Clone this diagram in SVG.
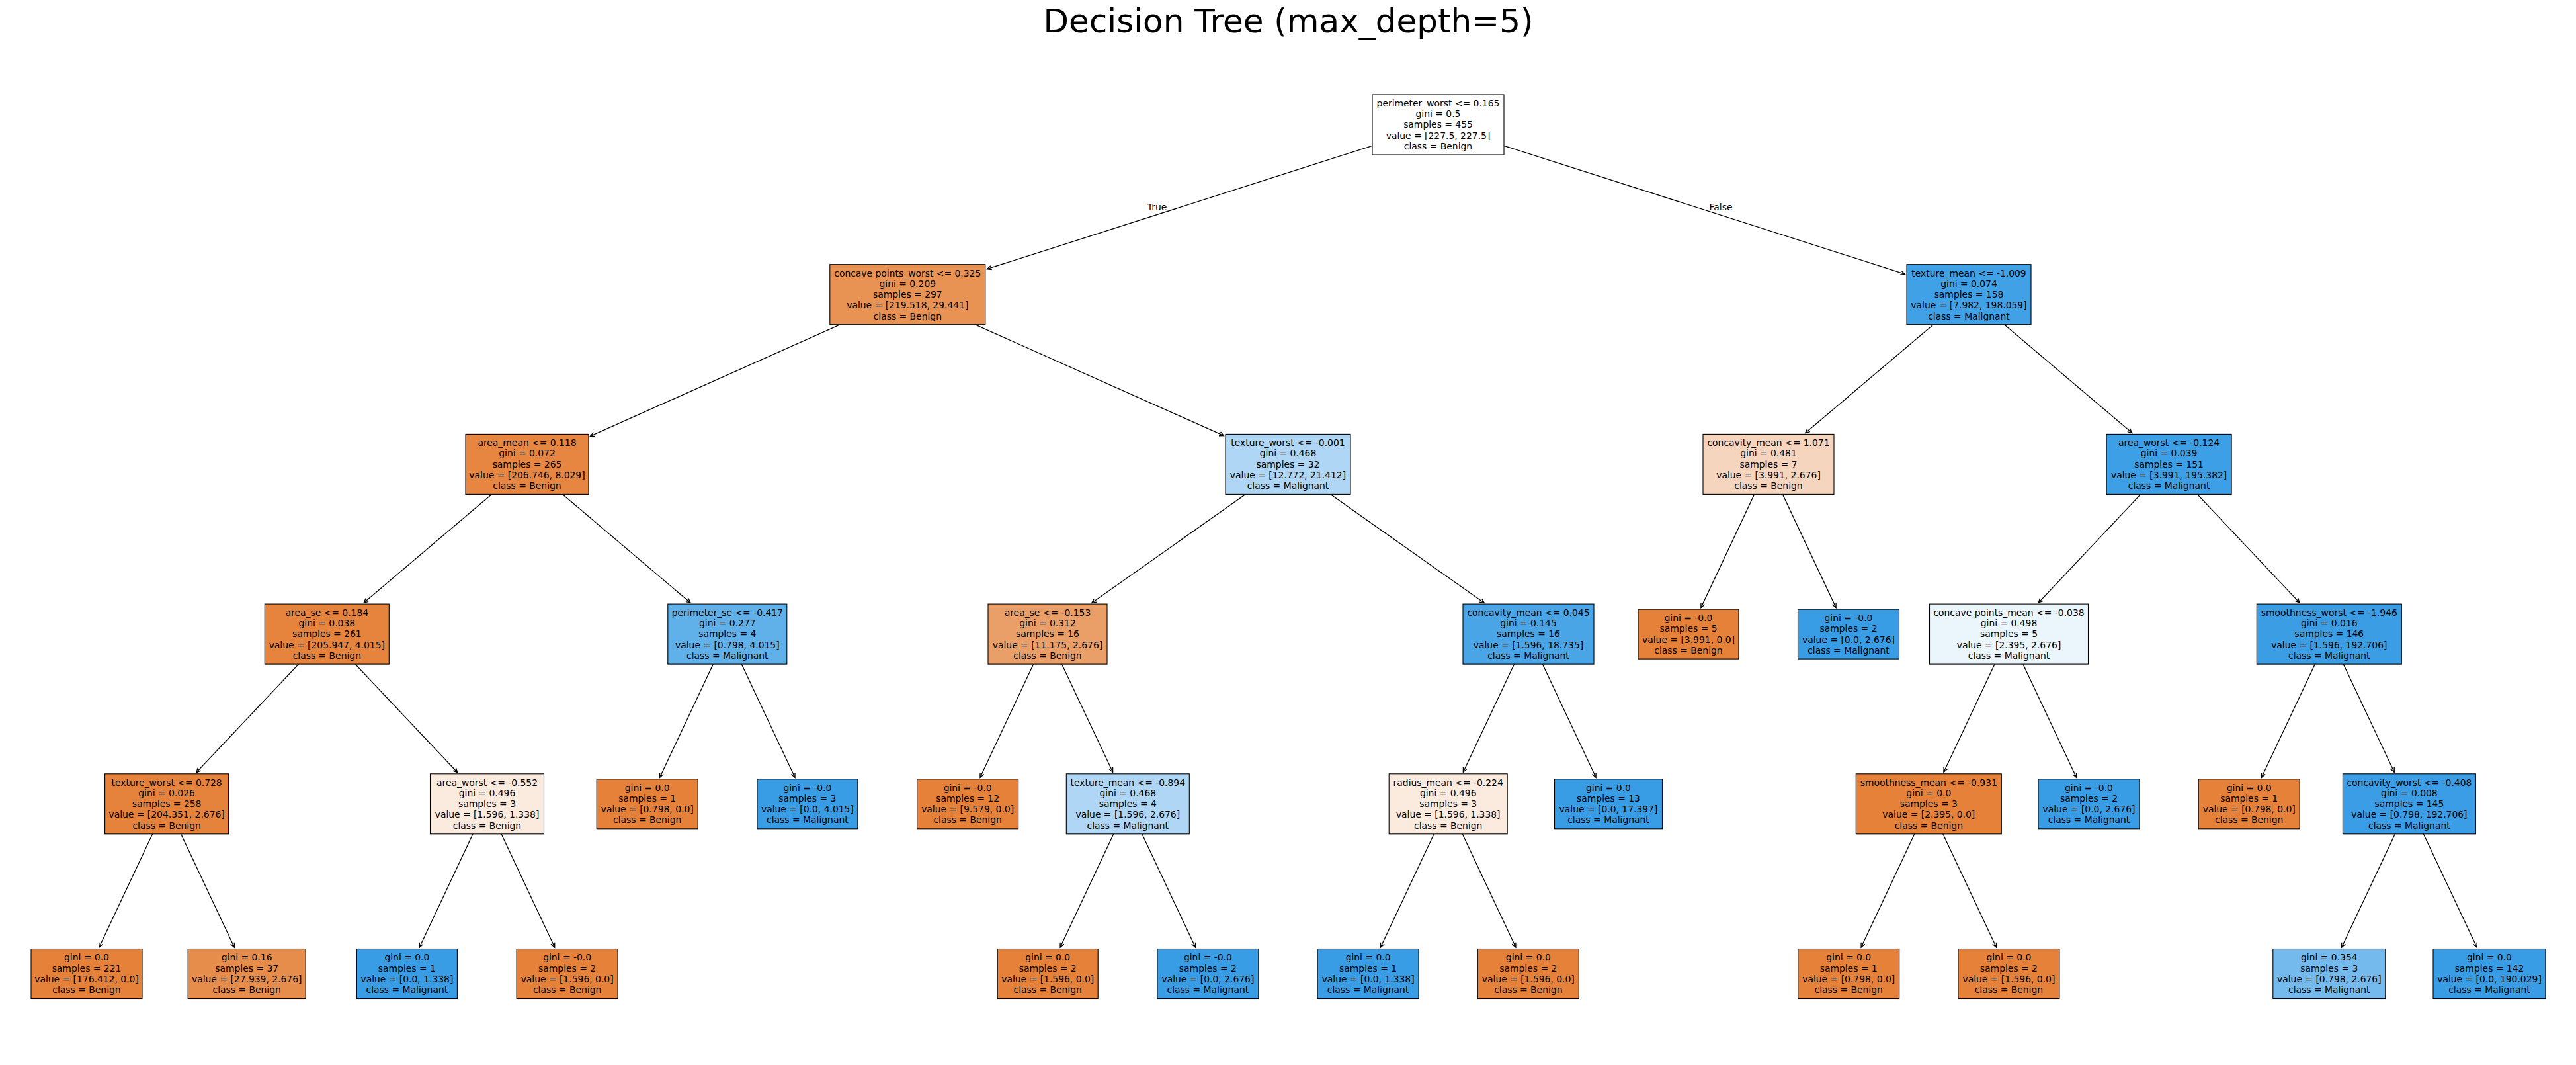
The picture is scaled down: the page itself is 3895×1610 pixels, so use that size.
<svg xmlns="http://www.w3.org/2000/svg" width="3895" height="1610" viewBox="0 0 3895 1610">
<defs>
<style>
.bg{fill:#ffffff}
.box{stroke:#000000;stroke-width:1.1}
.t{font-family:"DejaVu Sans","Liberation Sans",sans-serif;font-size:13.9px;fill:#000000;text-anchor:middle}
.title{font-family:"DejaVu Sans","Liberation Sans",sans-serif;font-size:50px;fill:#000000;text-anchor:middle}
.e{stroke:#000000;stroke-width:1.3;fill:none;marker-end:url(#ah)}
</style>
<marker id="ah" markerUnits="userSpaceOnUse" markerWidth="10" markerHeight="10" refX="0" refY="0" viewBox="-8 -4 9 8" orient="auto" overflow="visible">
<path d="M -6 -2.8 L 0 0 L -6 2.8" fill="none" stroke="#000000" stroke-width="1.2"/>
</marker>
</defs>
<rect class="bg" x="0" y="0" width="3895" height="1610"/>
<text class="title" x="1948" y="49">Decision Tree (max_depth=5)</text>
<g id="connectors">
<line class="e" x1="2075" y1="220.3" x2="1492.5" y2="406.7"/>
<line class="e" x1="2274" y1="220.3" x2="2880.3" y2="414.3"/>
<line class="e" x1="1270.3" y1="490.7" x2="892.6" y2="659.3"/>
<line class="e" x1="1474.3" y1="490.7" x2="1850.4" y2="658.6"/>
<line class="e" x1="2923.3" y1="490.7" x2="2729.8" y2="654.6"/>
<line class="e" x1="3030.6" y1="490.7" x2="3223.8" y2="654.6"/>
<line class="e" x1="743.3" y1="747.4" x2="550.1" y2="911.3"/>
<line class="e" x1="850.7" y1="747.4" x2="1044" y2="911.3"/>
<line class="e" x1="1883.1" y1="747.4" x2="1650.7" y2="911.5"/>
<line class="e" x1="2011.9" y1="747.4" x2="2244.3" y2="911.5"/>
<line class="e" x1="2652.6" y1="747.4" x2="2571.9" y2="918.6"/>
<line class="e" x1="2695.4" y1="747.4" x2="2776.1" y2="918.6"/>
<line class="e" x1="3236.7" y1="747.4" x2="3082.3" y2="911.1"/>
<line class="e" x1="3322.5" y1="747.4" x2="3477" y2="911.1"/>
<line class="e" x1="451.4" y1="1004.1" x2="296.9" y2="1167.8"/>
<line class="e" x1="537.2" y1="1004.1" x2="691.7" y2="1167.8"/>
<line class="e" x1="1078.3" y1="1004.1" x2="997.6" y2="1175.3"/>
<line class="e" x1="1121.3" y1="1004.1" x2="1202" y2="1175.3"/>
<line class="e" x1="1562.6" y1="1004.1" x2="1482" y2="1175.3"/>
<line class="e" x1="1605.5" y1="1004.1" x2="1682.6" y2="1167.3"/>
<line class="e" x1="2289.5" y1="1004.1" x2="2212.4" y2="1167.3"/>
<line class="e" x1="2332.4" y1="1004.1" x2="2413.1" y2="1175.3"/>
<line class="e" x1="3016" y1="1004.1" x2="2939" y2="1167.3"/>
<line class="e" x1="3058.9" y1="1004.1" x2="3139.6" y2="1175.3"/>
<line class="e" x1="3500.3" y1="1004.1" x2="3419.6" y2="1175.3"/>
<line class="e" x1="3543.3" y1="1004.1" x2="3620.2" y2="1167.3"/>
<line class="e" x1="230.6" y1="1260.8" x2="149.9" y2="1432"/>
<line class="e" x1="273.6" y1="1260.8" x2="354.3" y2="1432"/>
<line class="e" x1="715" y1="1260.8" x2="634.3" y2="1432"/>
<line class="e" x1="758" y1="1260.8" x2="838.7" y2="1432"/>
<line class="e" x1="1683.8" y1="1260.8" x2="1603.1" y2="1432"/>
<line class="e" x1="1726.8" y1="1260.8" x2="1807.5" y2="1432"/>
<line class="e" x1="2168.2" y1="1260.8" x2="2087.5" y2="1432"/>
<line class="e" x1="2211.2" y1="1260.8" x2="2291.9" y2="1432"/>
<line class="e" x1="2894.8" y1="1260.8" x2="2814.1" y2="1432"/>
<line class="e" x1="2937.8" y1="1260.8" x2="3018.5" y2="1432"/>
<line class="e" x1="3621.4" y1="1260.8" x2="3540.7" y2="1432"/>
<line class="e" x1="3664.4" y1="1260.8" x2="3745.1" y2="1432"/>
<text class="t" x="1749.5" y="317.5">True</text>
<text class="t" x="2602" y="317.5">False</text>
</g>
<g id="n0"><rect class="box" x="2075" y="143" width="199" height="91" fill="#ffffff"/><text class="t" x="2174.5" y="160.8"><tspan x="2174.5">perimeter_worst &lt;= 0.165</tspan><tspan x="2174.5" dy="16.25">gini = 0.5</tspan><tspan x="2174.5" dy="16.25">samples = 455</tspan><tspan x="2174.5" dy="16.25">value = [227.5, 227.5]</tspan><tspan x="2174.5" dy="16.25">class = Benign</tspan></text></g>
<g id="n1"><rect class="box" x="1254.8" y="399.7" width="235" height="91" fill="#e89254"/><text class="t" x="1372.3" y="417.5"><tspan x="1372.3">concave points_worst &lt;= 0.325</tspan><tspan x="1372.3" dy="16.25">gini = 0.209</tspan><tspan x="1372.3" dy="16.25">samples = 297</tspan><tspan x="1372.3" dy="16.25">value = [219.518, 29.441]</tspan><tspan x="1372.3" dy="16.25">class = Benign</tspan></text></g>
<g id="n2"><rect class="box" x="2883" y="399.7" width="188" height="91" fill="#41a1e6"/><text class="t" x="2977" y="417.5"><tspan x="2977">texture_mean &lt;= -1.009</tspan><tspan x="2977" dy="16.25">gini = 0.074</tspan><tspan x="2977" dy="16.25">samples = 158</tspan><tspan x="2977" dy="16.25">value = [7.982, 198.059]</tspan><tspan x="2977" dy="16.25">class = Malignant</tspan></text></g>
<g id="n3"><rect class="box" x="704" y="656.4" width="186" height="91" fill="#e68641"/><text class="t" x="797" y="674.2"><tspan x="797">area_mean &lt;= 0.118</tspan><tspan x="797" dy="16.25">gini = 0.072</tspan><tspan x="797" dy="16.25">samples = 265</tspan><tspan x="797" dy="16.25">value = [206.746, 8.029]</tspan><tspan x="797" dy="16.25">class = Benign</tspan></text></g>
<g id="n4"><rect class="box" x="1853" y="656.4" width="189" height="91" fill="#afd7f5"/><text class="t" x="1947.5" y="674.2"><tspan x="1947.5">texture_worst &lt;= -0.001</tspan><tspan x="1947.5" dy="16.25">gini = 0.468</tspan><tspan x="1947.5" dy="16.25">samples = 32</tspan><tspan x="1947.5" dy="16.25">value = [12.772, 21.412]</tspan><tspan x="1947.5" dy="16.25">class = Malignant</tspan></text></g>
<g id="n5"><rect class="box" x="2575" y="656.4" width="198" height="91" fill="#f6d5be"/><text class="t" x="2674" y="674.2"><tspan x="2674">concavity_mean &lt;= 1.071</tspan><tspan x="2674" dy="16.25">gini = 0.481</tspan><tspan x="2674" dy="16.25">samples = 7</tspan><tspan x="2674" dy="16.25">value = [3.991, 2.676]</tspan><tspan x="2674" dy="16.25">class = Benign</tspan></text></g>
<g id="n6"><rect class="box" x="3185.1" y="656.4" width="189" height="91" fill="#3d9fe6"/><text class="t" x="3279.6" y="674.2"><tspan x="3279.6">area_worst &lt;= -0.124</tspan><tspan x="3279.6" dy="16.25">gini = 0.039</tspan><tspan x="3279.6" dy="16.25">samples = 151</tspan><tspan x="3279.6" dy="16.25">value = [3.991, 195.382]</tspan><tspan x="3279.6" dy="16.25">class = Malignant</tspan></text></g>
<g id="n7"><rect class="box" x="400.3" y="913.1" width="188" height="91" fill="#e6833d"/><text class="t" x="494.3" y="930.9"><tspan x="494.3">area_se &lt;= 0.184</tspan><tspan x="494.3" dy="16.25">gini = 0.038</tspan><tspan x="494.3" dy="16.25">samples = 261</tspan><tspan x="494.3" dy="16.25">value = [205.947, 4.015]</tspan><tspan x="494.3" dy="16.25">class = Benign</tspan></text></g>
<g id="n8"><rect class="box" x="1009.8" y="913.1" width="180" height="91" fill="#60b0ea"/><text class="t" x="1099.8" y="930.9"><tspan x="1099.8">perimeter_se &lt;= -0.417</tspan><tspan x="1099.8" dy="16.25">gini = 0.277</tspan><tspan x="1099.8" dy="16.25">samples = 4</tspan><tspan x="1099.8" dy="16.25">value = [0.798, 4.015]</tspan><tspan x="1099.8" dy="16.25">class = Malignant</tspan></text></g>
<g id="n9"><rect class="box" x="1494" y="913.1" width="180" height="91" fill="#eb9f68"/><text class="t" x="1584" y="930.9"><tspan x="1584">area_se &lt;= -0.153</tspan><tspan x="1584" dy="16.25">gini = 0.312</tspan><tspan x="1584" dy="16.25">samples = 16</tspan><tspan x="1584" dy="16.25">value = [11.175, 2.676]</tspan><tspan x="1584" dy="16.25">class = Benign</tspan></text></g>
<g id="n10"><rect class="box" x="2212" y="913.1" width="198" height="91" fill="#4aa5e7"/><text class="t" x="2311" y="930.9"><tspan x="2311">concavity_mean &lt;= 0.045</tspan><tspan x="2311" dy="16.25">gini = 0.145</tspan><tspan x="2311" dy="16.25">samples = 16</tspan><tspan x="2311" dy="16.25">value = [1.596, 18.735]</tspan><tspan x="2311" dy="16.25">class = Malignant</tspan></text></g>
<g id="n11"><rect class="box" x="2477" y="921.1" width="152" height="75" fill="#e58139"/><text class="t" x="2553" y="939"><tspan x="2553">gini = -0.0</tspan><tspan x="2553" dy="16.25">samples = 5</tspan><tspan x="2553" dy="16.25">value = [3.991, 0.0]</tspan><tspan x="2553" dy="16.25">class = Benign</tspan></text></g>
<g id="n12"><rect class="box" x="2718.5" y="921.1" width="153" height="75" fill="#399de5"/><text class="t" x="2795" y="939"><tspan x="2795">gini = -0.0</tspan><tspan x="2795" dy="16.25">samples = 2</tspan><tspan x="2795" dy="16.25">value = [0.0, 2.676]</tspan><tspan x="2795" dy="16.25">class = Malignant</tspan></text></g>
<g id="n13"><rect class="box" x="2917.5" y="913.1" width="240" height="91" fill="#eaf5fc"/><text class="t" x="3037.5" y="930.9"><tspan x="3037.5">concave points_mean &lt;= -0.038</tspan><tspan x="3037.5" dy="16.25">gini = 0.498</tspan><tspan x="3037.5" dy="16.25">samples = 5</tspan><tspan x="3037.5" dy="16.25">value = [2.395, 2.676]</tspan><tspan x="3037.5" dy="16.25">class = Malignant</tspan></text></g>
<g id="n14"><rect class="box" x="3412.3" y="913.1" width="219" height="91" fill="#3b9ee5"/><text class="t" x="3521.8" y="930.9"><tspan x="3521.8">smoothness_worst &lt;= -1.946</tspan><tspan x="3521.8" dy="16.25">gini = 0.016</tspan><tspan x="3521.8" dy="16.25">samples = 146</tspan><tspan x="3521.8" dy="16.25">value = [1.596, 192.706]</tspan><tspan x="3521.8" dy="16.25">class = Malignant</tspan></text></g>
<g id="n15"><rect class="box" x="158.6" y="1169.8" width="187" height="91" fill="#e5833c"/><text class="t" x="252.1" y="1187.6"><tspan x="252.1">texture_worst &lt;= 0.728</tspan><tspan x="252.1" dy="16.25">gini = 0.026</tspan><tspan x="252.1" dy="16.25">samples = 258</tspan><tspan x="252.1" dy="16.25">value = [204.351, 2.676]</tspan><tspan x="252.1" dy="16.25">class = Benign</tspan></text></g>
<g id="n16"><rect class="box" x="650.5" y="1169.8" width="172" height="91" fill="#fbebdf"/><text class="t" x="736.5" y="1187.6"><tspan x="736.5">area_worst &lt;= -0.552</tspan><tspan x="736.5" dy="16.25">gini = 0.496</tspan><tspan x="736.5" dy="16.25">samples = 3</tspan><tspan x="736.5" dy="16.25">value = [1.596, 1.338]</tspan><tspan x="736.5" dy="16.25">class = Benign</tspan></text></g>
<g id="n17"><rect class="box" x="902.2" y="1177.8" width="153" height="75" fill="#e58139"/><text class="t" x="978.7" y="1195.7"><tspan x="978.7">gini = 0.0</tspan><tspan x="978.7" dy="16.25">samples = 1</tspan><tspan x="978.7" dy="16.25">value = [0.798, 0.0]</tspan><tspan x="978.7" dy="16.25">class = Benign</tspan></text></g>
<g id="n18"><rect class="box" x="1144.9" y="1177.8" width="152" height="75" fill="#399de5"/><text class="t" x="1220.9" y="1195.7"><tspan x="1220.9">gini = -0.0</tspan><tspan x="1220.9" dy="16.25">samples = 3</tspan><tspan x="1220.9" dy="16.25">value = [0.0, 4.015]</tspan><tspan x="1220.9" dy="16.25">class = Malignant</tspan></text></g>
<g id="n19"><rect class="box" x="1386.6" y="1177.8" width="153" height="75" fill="#e58139"/><text class="t" x="1463.1" y="1195.7"><tspan x="1463.1">gini = -0.0</tspan><tspan x="1463.1" dy="16.25">samples = 12</tspan><tspan x="1463.1" dy="16.25">value = [9.579, 0.0]</tspan><tspan x="1463.1" dy="16.25">class = Benign</tspan></text></g>
<g id="n20"><rect class="box" x="1612.3" y="1169.8" width="186" height="91" fill="#afd7f5"/><text class="t" x="1705.3" y="1187.6"><tspan x="1705.3">texture_mean &lt;= -0.894</tspan><tspan x="1705.3" dy="16.25">gini = 0.468</tspan><tspan x="1705.3" dy="16.25">samples = 4</tspan><tspan x="1705.3" dy="16.25">value = [1.596, 2.676]</tspan><tspan x="1705.3" dy="16.25">class = Malignant</tspan></text></g>
<g id="n21"><rect class="box" x="2100.2" y="1169.8" width="179" height="91" fill="#fbebdf"/><text class="t" x="2189.7" y="1187.6"><tspan x="2189.7">radius_mean &lt;= -0.224</tspan><tspan x="2189.7" dy="16.25">gini = 0.496</tspan><tspan x="2189.7" dy="16.25">samples = 3</tspan><tspan x="2189.7" dy="16.25">value = [1.596, 1.338]</tspan><tspan x="2189.7" dy="16.25">class = Benign</tspan></text></g>
<g id="n22"><rect class="box" x="2350.5" y="1177.8" width="163" height="75" fill="#399de5"/><text class="t" x="2432" y="1195.7"><tspan x="2432">gini = 0.0</tspan><tspan x="2432" dy="16.25">samples = 13</tspan><tspan x="2432" dy="16.25">value = [0.0, 17.397]</tspan><tspan x="2432" dy="16.25">class = Malignant</tspan></text></g>
<g id="n23"><rect class="box" x="2806.3" y="1169.8" width="220" height="91" fill="#e58139"/><text class="t" x="2916.3" y="1187.6"><tspan x="2916.3">smoothness_mean &lt;= -0.931</tspan><tspan x="2916.3" dy="16.25">gini = 0.0</tspan><tspan x="2916.3" dy="16.25">samples = 3</tspan><tspan x="2916.3" dy="16.25">value = [2.395, 0.0]</tspan><tspan x="2916.3" dy="16.25">class = Benign</tspan></text></g>
<g id="n24"><rect class="box" x="3082" y="1177.8" width="153" height="75" fill="#399de5"/><text class="t" x="3158.5" y="1195.7"><tspan x="3158.5">gini = -0.0</tspan><tspan x="3158.5" dy="16.25">samples = 2</tspan><tspan x="3158.5" dy="16.25">value = [0.0, 2.676]</tspan><tspan x="3158.5" dy="16.25">class = Malignant</tspan></text></g>
<g id="n25"><rect class="box" x="3324.2" y="1177.8" width="153" height="75" fill="#e58139"/><text class="t" x="3400.7" y="1195.7"><tspan x="3400.7">gini = 0.0</tspan><tspan x="3400.7" dy="16.25">samples = 1</tspan><tspan x="3400.7" dy="16.25">value = [0.798, 0.0]</tspan><tspan x="3400.7" dy="16.25">class = Benign</tspan></text></g>
<g id="n26"><rect class="box" x="3542.4" y="1169.8" width="201" height="91" fill="#3a9de5"/><text class="t" x="3642.9" y="1187.6"><tspan x="3642.9">concavity_worst &lt;= -0.408</tspan><tspan x="3642.9" dy="16.25">gini = 0.008</tspan><tspan x="3642.9" dy="16.25">samples = 145</tspan><tspan x="3642.9" dy="16.25">value = [0.798, 192.706]</tspan><tspan x="3642.9" dy="16.25">class = Malignant</tspan></text></g>
<g id="n27"><rect class="box" x="47" y="1434.5" width="168" height="75" fill="#e58139"/><text class="t" x="131" y="1452.4"><tspan x="131">gini = 0.0</tspan><tspan x="131" dy="16.25">samples = 221</tspan><tspan x="131" dy="16.25">value = [176.412, 0.0]</tspan><tspan x="131" dy="16.25">class = Benign</tspan></text></g>
<g id="n28"><rect class="box" x="284.2" y="1434.5" width="178" height="75" fill="#e78d4c"/><text class="t" x="373.2" y="1452.4"><tspan x="373.2">gini = 0.16</tspan><tspan x="373.2" dy="16.25">samples = 37</tspan><tspan x="373.2" dy="16.25">value = [27.939, 2.676]</tspan><tspan x="373.2" dy="16.25">class = Benign</tspan></text></g>
<g id="n29"><rect class="box" x="539.4" y="1434.5" width="152" height="75" fill="#399de5"/><text class="t" x="615.4" y="1452.4"><tspan x="615.4">gini = 0.0</tspan><tspan x="615.4" dy="16.25">samples = 1</tspan><tspan x="615.4" dy="16.25">value = [0.0, 1.338]</tspan><tspan x="615.4" dy="16.25">class = Malignant</tspan></text></g>
<g id="n30"><rect class="box" x="781.1" y="1434.5" width="153" height="75" fill="#e58139"/><text class="t" x="857.6" y="1452.4"><tspan x="857.6">gini = -0.0</tspan><tspan x="857.6" dy="16.25">samples = 2</tspan><tspan x="857.6" dy="16.25">value = [1.596, 0.0]</tspan><tspan x="857.6" dy="16.25">class = Benign</tspan></text></g>
<g id="n31"><rect class="box" x="1508.2" y="1434.5" width="152" height="75" fill="#e58139"/><text class="t" x="1584.2" y="1452.4"><tspan x="1584.2">gini = 0.0</tspan><tspan x="1584.2" dy="16.25">samples = 2</tspan><tspan x="1584.2" dy="16.25">value = [1.596, 0.0]</tspan><tspan x="1584.2" dy="16.25">class = Benign</tspan></text></g>
<g id="n32"><rect class="box" x="1749.9" y="1434.5" width="153" height="75" fill="#399de5"/><text class="t" x="1826.4" y="1452.4"><tspan x="1826.4">gini = -0.0</tspan><tspan x="1826.4" dy="16.25">samples = 2</tspan><tspan x="1826.4" dy="16.25">value = [0.0, 2.676]</tspan><tspan x="1826.4" dy="16.25">class = Malignant</tspan></text></g>
<g id="n33"><rect class="box" x="1992.1" y="1434.5" width="153" height="75" fill="#399de5"/><text class="t" x="2068.6" y="1452.4"><tspan x="2068.6">gini = 0.0</tspan><tspan x="2068.6" dy="16.25">samples = 1</tspan><tspan x="2068.6" dy="16.25">value = [0.0, 1.338]</tspan><tspan x="2068.6" dy="16.25">class = Malignant</tspan></text></g>
<g id="n34"><rect class="box" x="2234.3" y="1434.5" width="153" height="75" fill="#e58139"/><text class="t" x="2310.8" y="1452.4"><tspan x="2310.8">gini = 0.0</tspan><tspan x="2310.8" dy="16.25">samples = 2</tspan><tspan x="2310.8" dy="16.25">value = [1.596, 0.0]</tspan><tspan x="2310.8" dy="16.25">class = Benign</tspan></text></g>
<g id="n35"><rect class="box" x="2718.7" y="1434.5" width="153" height="75" fill="#e58139"/><text class="t" x="2795.2" y="1452.4"><tspan x="2795.2">gini = 0.0</tspan><tspan x="2795.2" dy="16.25">samples = 1</tspan><tspan x="2795.2" dy="16.25">value = [0.798, 0.0]</tspan><tspan x="2795.2" dy="16.25">class = Benign</tspan></text></g>
<g id="n36"><rect class="box" x="2960.9" y="1434.5" width="153" height="75" fill="#e58139"/><text class="t" x="3037.4" y="1452.4"><tspan x="3037.4">gini = 0.0</tspan><tspan x="3037.4" dy="16.25">samples = 2</tspan><tspan x="3037.4" dy="16.25">value = [1.596, 0.0]</tspan><tspan x="3037.4" dy="16.25">class = Benign</tspan></text></g>
<g id="n37"><rect class="box" x="3436.8" y="1434.5" width="170" height="75" fill="#74baed"/><text class="t" x="3521.8" y="1452.4"><tspan x="3521.8">gini = 0.354</tspan><tspan x="3521.8" dy="16.25">samples = 3</tspan><tspan x="3521.8" dy="16.25">value = [0.798, 2.676]</tspan><tspan x="3521.8" dy="16.25">class = Malignant</tspan></text></g>
<g id="n38"><rect class="box" x="3679" y="1434.5" width="170" height="75" fill="#399de5"/><text class="t" x="3764" y="1452.4"><tspan x="3764">gini = 0.0</tspan><tspan x="3764" dy="16.25">samples = 142</tspan><tspan x="3764" dy="16.25">value = [0.0, 190.029]</tspan><tspan x="3764" dy="16.25">class = Malignant</tspan></text></g>
</svg>
